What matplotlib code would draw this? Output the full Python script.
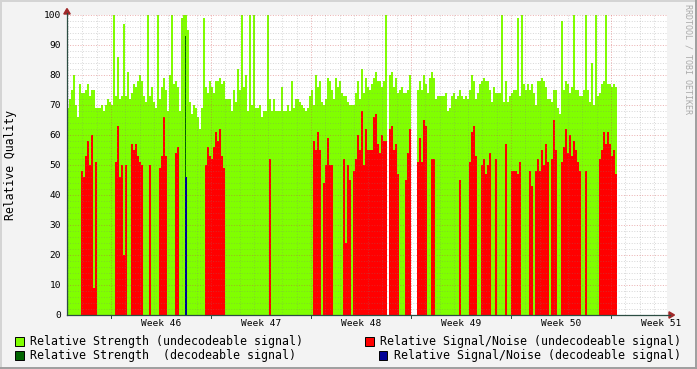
import numpy as np
import matplotlib
matplotlib.use("Agg")
import matplotlib.pyplot as plt
from matplotlib.patches import Polygon, Rectangle
from matplotlib.lines import Line2D

nan = float("nan")

# ---------------- data (2-px samples, time in days from start of week 46) --------------
start_day = -3.08
step_day = 0.14

strength_undec = [
    69, 72, 75, 80, 70, 66, 77, 74, 74, 75,
    77, 73, 75, 75, 69, 69, 69, 70, 68, 70,
    72, 71, 70, 100, 73, 86, 72, 73, 97, 73,
    81, 72, 74, 77, 76, 78, 80, 78, 73, 71,
    100, 73, 76, 71, 69, 100, 72, 76, 79, 75,
    68, 80, 100, 77, 78, 76, 68, 99, 100, 100,
    95, 71, 67, 70, 69, 66, 62, 69, 99, 76,
    74, 78, 76, 74, 78, 78, 79, 77, 78, 72,
    72, 72, 68, 75, 71, 82, 75, 100, 76, 80,
    68, 100, 70, 100, 69, 69, 70, 66, 68, 68,
    100, 72, 68, 72, 68, 68, 68, 76, 68, 68,
    70, 68, 78, 69, 72, 72, 71, 70, 69, 68,
    69, 73, 75, 70, 80, 76, 78, 71, 70, 72,
    79, 78, 75, 72, 79, 76, 78, 74, 73, 73,
    71, 70, 70, 70, 74, 78, 72, 82, 74, 79,
    76, 75, 77, 79, 81, 78, 78, 76, 78, 100,
    nan, 80, 81, 76, 79, 74, 75, 76, 74, 74,
    75, 80, nan, nan, nan, 75, 78, 75, 80, 77,
    74, 79, 81, 79, 72, 73, 73, 73, 73, 74,
    68, 69, 73, 74, 72, 73, 75, 73, 72, 73,
    72, 75, 80, 78, 72, 74, 77, 78, 79, 78,
    78, 75, 71, 76, 74, 74, 74, 100, 71, 78,
    71, 73, 74, 75, 75, 99, 73, 100, 77, 75,
    77, 75, 77, 74, 70, 78, 78, 79, 78, 76,
    72, 72, 71, 75, 75, 69, 67, 98, 75, 78,
    77, 74, 76, 100, 75, 75, 73, 73, 75, 100,
    75, 71, 84, 70, 100, 73, 74, 77, 78, 100,
    77, 77, 76, 77, 76,
]

snr_undec = [
    0, 0, 0, 0, 0, 0, 0, 48, 46, 53,
    58, 50, 60, 9, 51, 0, 0, 0, 0, 0,
    0, 0, 0, 0, 51, 63, 46, 50, 20, 50,
    0, 0, 57, 55, 57, 53, 51, 50, 0, 0,
    0, 50, 0, 0, 0, 0, 49, 53, 66, 53,
    0, 0, 0, 0, 54, 56, 0, 0, 0, 0,
    0, 0, 0, 0, 0, 0, 0, 0, 0, 50,
    56, 53, 52, 56, 61, 58, 62, 53, 49, 0,
    0, 0, 0, 0, 0, 0, 0, 0, 0, 0,
    0, 0, 0, 0, 0, 0, 0, 0, 0, 0,
    0, 52, 0, 0, 0, 0, 0, 0, 0, 0,
    0, 0, 0, 0, 0, 0, 0, 0, 0, 0,
    0, 0, 0, 58, 55, 61, 55, 0, 44, 50,
    59, 50, 50, 0, 0, 0, 0, 0, 52, 24,
    50, 45, 0, 48, 52, 60, 55, 68, 50, 62,
    55, 55, 55, 66, 67, 57, 54, 60, 58, 58,
    0, 62, 63, 55, 57, 47, 0, 0, 0, 45,
    54, 62, 0, 0, 0, 51, 59, 51, 65, 63,
    0, 0, 52, 52, 0, 0, 0, 0, 0, 0,
    0, 0, 0, 0, 0, 0, 45, 0, 0, 0,
    0, 51, 61, 63, 53, 0, 0, 50, 52, 47,
    50, 54, 0, 0, 52, 0, 0, 0, 0, 57,
    0, 0, 48, 48, 48, 47, 51, 0, 0, 0,
    0, 48, 43, 0, 48, 52, 48, 55, 50, 57,
    51, 0, 52, 65, 55, 0, 0, 51, 56, 62,
    54, 60, 53, 58, 55, 51, 48, 0, 0, 48,
    0, 0, 0, 0, 0, 0, 52, 55, 61, 57,
    61, 57, 53, 55, 47,
]

# decodeable samples (sparse: sample index -> value)
decodeable_index = [59]
strength_dec = [93]
snr_dec = [46]

y_ticks = [0, 10, 20, 30, 40, 50, 60, 70, 80, 90, 100]
week_numbers = [46, 47, 48, 49, 50, 51]
week_labels = ["Week %d" % w for w in week_numbers]

legend_entries = [
    ("Relative Strength (undecodeable signal)", "#80ff00"),
    ("Relative Strength  (decodeable signal)", "#006400"),
    ("Relative Signal/Noise (undecodeable signal)", "#ff0000"),
    ("Relative Signal/Noise (decodeable signal)", "#000096"),
]

# ---------------- figure ----------------
W, H = 697, 369
fig = plt.figure(figsize=(W / 100, H / 100), dpi=100, facecolor="#f3f3f3")


def fx(x):
    return x / W


def fy(y):
    return 1 - y / H


PL, PR, PT, PB = 67, 667, 15, 315
ax = fig.add_axes([fx(PL), fy(PB), (PR - PL) / W, (PB - PT) / H])
ax.set_facecolor("white")
xmin = (PL - 111) * 0.07
xmax = (PR - 111) * 0.07
ax.set_xlim(xmin, xmax)
ax.set_ylim(0, 100)
for s in ax.spines.values():
    s.set_visible(False)

t = start_day + step_day * np.arange(len(strength_undec))
g = np.array(strength_undec, dtype=float)
mask = ~np.isnan(g)
ax.bar(t[mask], g[mask], width=step_day, align="edge", color="#80ff00",
       linewidth=0, zorder=1, antialiased=False)
ax.bar(t[decodeable_index], strength_dec, width=step_day * 0.6, align="edge",
       color="#006400", linewidth=0, zorder=2, antialiased=False)
r = np.array(snr_undec, dtype=float)
rm = r > 0
ax.bar(t[rm], r[rm], width=step_day, align="edge", color="#ff0000",
       linewidth=0, zorder=3, antialiased=False)
ax.bar(t[decodeable_index], snr_dec, width=step_day, align="edge",
       color="#000096", linewidth=0, zorder=4, antialiased=False)

# grid (drawn over the data, dotted)
dot = (0, (1, 1.6))
for d in range(-3, 39):
    if d % 7 == 0:
        ax.axvline(d, color="#d04848", alpha=0.42, lw=0.72, ls=dot, zorder=6)
    else:
        ax.axvline(d, color="#808080", alpha=0.3, lw=0.72, ls=dot, zorder=5)
for v in range(2, 101, 2):
    if v % 10 == 0:
        ax.axhline(v, color="#d04848", alpha=0.42, lw=0.72, ls=dot, zorder=6)
    else:
        ax.axhline(v, color="#808080", alpha=0.3, lw=0.72, ls=dot, zorder=5)

mono = "DejaVu Sans Mono"
ax.set_yticks(y_ticks)
ax.set_yticklabels([str(v) for v in y_ticks], fontfamily=mono, fontsize=6.8)
ax.tick_params(axis="y", length=0, pad=4.3)
ax.set_xticks([3.5 + 7 * k for k in range(len(week_labels))])
ax.set_xticklabels(week_labels, fontfamily=mono, fontsize=6.8)
ax.tick_params(axis="x", length=0, pad=3.2)

# week-start tick marks below the axis
for d in range(0, 39, 7):
    ax.plot([d, d], [0, -0.9], color="#2c4d43", lw=0.72, clip_on=False, zorder=7)

# axes lines and arrows
axis_col = "#2c4d43"
arrow_col = "#a02828"
fig.add_artist(Line2D([fx(PL), fx(PL)], [fy(PB), fy(13)], color=axis_col, lw=0.9,
                      transform=fig.transFigure))
fig.add_artist(Line2D([fx(PL), fx(670)], [fy(PB), fy(PB)], color=axis_col, lw=0.9,
                      transform=fig.transFigure))
fig.add_artist(Polygon([[fx(67), fy(8.5)], [fx(63.8), fy(14)], [fx(70.2), fy(14)]],
                       closed=True, color=arrow_col, transform=fig.transFigure))
fig.add_artist(Polygon([[fx(674.5), fy(315)], [fx(669), fy(311.8)], [fx(669), fy(318.2)]],
                       closed=True, color=arrow_col, transform=fig.transFigure))

# y label
fig.text(fx(11), fy(165), "Relative Quality", rotation=90, ha="center", va="center",
         fontfamily=mono, fontsize=8.3)

# watermark
fig.text(fx(688), fy(4), "RRDTOOL / TOBI OETIKER", rotation=270, ha="center", va="top",
         fontfamily=mono, fontsize=6, color="#aaaaaa")

# legend
leg_pos = [
    (15, 341, 30),
    (15, 355, 30),
    (365, 341, 380),
    (379, 355, 394),
]
for (label, col), (sx, sy, tx) in zip(legend_entries, leg_pos):
    fig.add_artist(Rectangle((fx(sx), fy(sy + 4.5)), 8.5 / W, 8.5 / H, facecolor=col,
                             edgecolor="black", lw=0.7, transform=fig.transFigure))
    fig.text(fx(tx), fy(sy), label, ha="left", va="center", fontfamily=mono,
             fontsize=8.4)

# canvas shading frame
fig.add_artist(Line2D([0, 1], [fy(0.8), fy(0.8)], color="#d4d4d4", lw=1.4,
                      transform=fig.transFigure))
fig.add_artist(Line2D([fx(0.8), fx(0.8)], [0, 1], color="#d4d4d4", lw=1.4,
                      transform=fig.transFigure))
fig.add_artist(Line2D([0, 1], [fy(368.2), fy(368.2)], color="#9e9e9e", lw=1.4,
                      transform=fig.transFigure))
fig.add_artist(Line2D([fx(696.2), fx(696.2)], [0, 1], color="#9e9e9e", lw=1.4,
                      transform=fig.transFigure))

fig.savefig("out.png", dpi=100, facecolor=fig.get_facecolor())
